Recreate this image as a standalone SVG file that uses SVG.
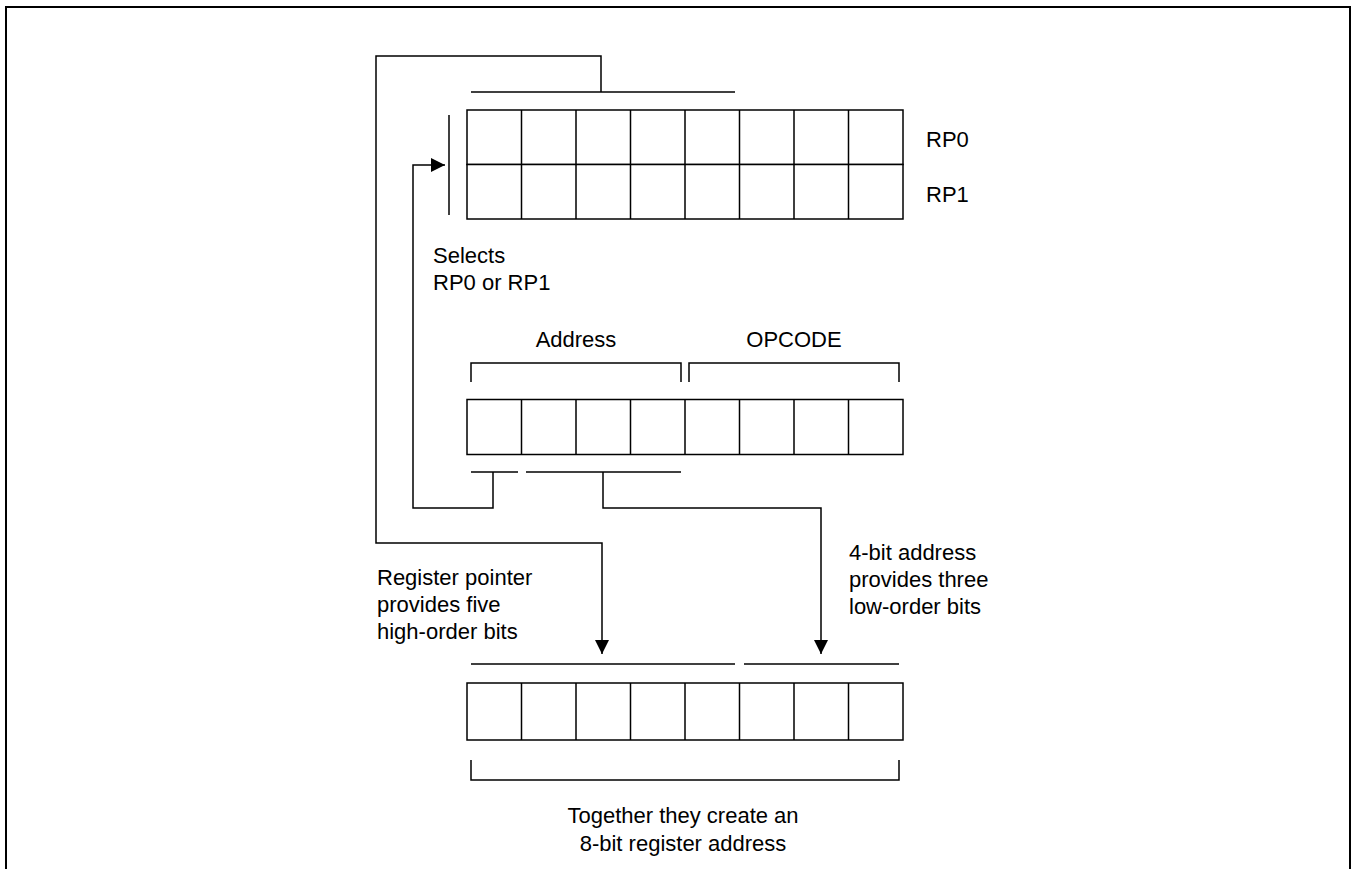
<svg xmlns="http://www.w3.org/2000/svg" width="1352" height="869" viewBox="0 0 1352 869">
<defs>
<style>
.ln{fill:none;stroke:#000;stroke-width:1.5}
.cell{fill:#fff;stroke:#000;stroke-width:1.5}
.t{font-family:"Liberation Sans",Arial,sans-serif;font-size:22px;fill:#000}
.m{text-anchor:middle}
</style>
<marker id="ah" viewBox="0 0 14 14" refX="14" refY="7" markerWidth="14" markerHeight="14" markerUnits="userSpaceOnUse" orient="auto">
<path d="M0,0 L14,7 L0,14 Z" fill="#000"/>
</marker>
</defs>
<rect width="1352" height="869" fill="#fff"/>
<path d="M6,869 V7 H1350 V869" fill="none" stroke="#000" stroke-width="2"/>

<g id="rp-registers">
<rect class="cell" x="467" y="110" width="436" height="54.5"/>
<rect class="cell" x="467" y="164.5" width="436" height="54.5"/>
<path class="ln" d="M521.5,110V219M576,110V219M630.5,110V219M685,110V219M739.5,110V219M794,110V219M848.5,110V219"/>
<text class="t" x="926" y="147">RP0</text>
<text class="t" x="926" y="202">RP1</text>
</g>

<g id="selector">
<line class="ln" x1="449" y1="115" x2="449" y2="215"/>
<text class="t" x="433" y="263">Selects</text>
<text class="t" x="433" y="290">RP0 or RP1</text>
</g>

<g id="instruction">
<rect class="cell" x="467" y="399.5" width="436" height="55"/>
<path class="ln" d="M521.5,399.5V454.5M576,399.5V454.5M630.5,399.5V454.5M685,399.5V454.5M739.5,399.5V454.5M794,399.5V454.5M848.5,399.5V454.5"/>
<path class="ln" d="M471,382V363H681V382"/>
<path class="ln" d="M689,382V363H899V382"/>
<text class="t m" x="576" y="347">Address</text>
<text class="t m" x="794" y="347">OPCODE</text>
</g>

<g id="result">
<rect class="cell" x="467" y="683" width="436" height="57"/>
<path class="ln" d="M521.5,683V740M576,683V740M630.5,683V740M685,683V740M739.5,683V740M794,683V740M848.5,683V740"/>
<path class="ln" d="M471,760V780H899V760"/>
<text class="t m" x="683" y="823">Together they create an</text>
<text class="t m" x="683" y="851">8-bit register address</text>
</g>

<g id="labels">
<text class="t" x="377" y="585">Register pointer</text>
<text class="t" x="377" y="612">provides five</text>
<text class="t" x="377" y="639">high-order bits</text>
<text class="t" x="849" y="560">4-bit address</text>
<text class="t" x="849" y="587">provides three</text>
<text class="t" x="849" y="614">low-order bits</text>
</g>

<g id="connectors">
<line class="ln" x1="471" y1="92" x2="735" y2="92"/>
<path class="ln" d="M601,92V56H376V543H602V654" marker-end="url(#ah)"/>
<line class="ln" x1="471" y1="472" x2="518" y2="472"/>
<line class="ln" x1="526" y1="472" x2="681" y2="472"/>
<path class="ln" d="M493,472V508H413V165H445" marker-end="url(#ah)"/>
<path class="ln" d="M603,472V508H821V654" marker-end="url(#ah)"/>
<line class="ln" x1="471" y1="664" x2="735" y2="664"/>
<line class="ln" x1="744" y1="664" x2="899" y2="664"/>
</g>
</svg>
